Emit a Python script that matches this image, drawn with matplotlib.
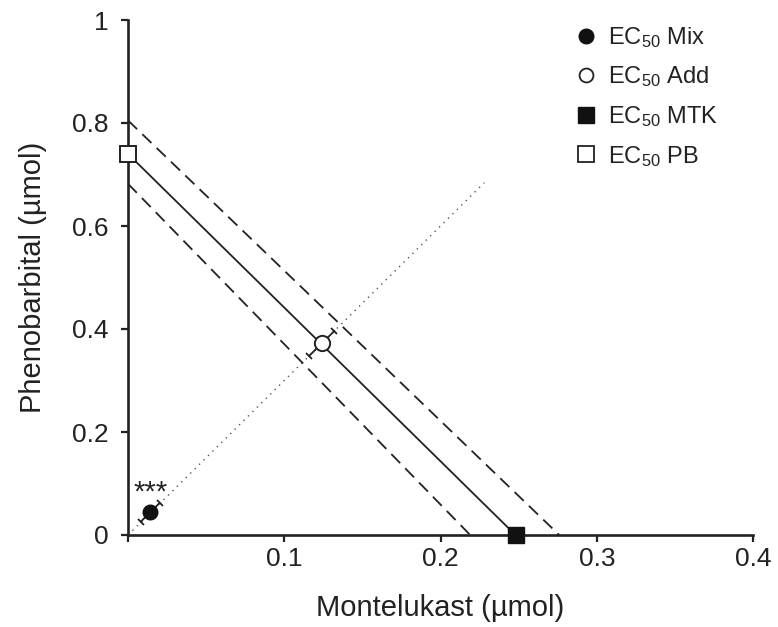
import numpy as np
import matplotlib
matplotlib.use("Agg")
import matplotlib.pyplot as plt
from matplotlib.lines import Line2D
from matplotlib.markers import MarkerStyle
from matplotlib.transforms import Affine2D

plt.rcParams['font.family'] = ['Liberation Sans', 'DejaVu Sans']
plt.rcParams['mathtext.fontset'] = 'custom'
plt.rcParams['mathtext.rm'] = 'Liberation Sans'
plt.rcParams['mathtext.default'] = 'regular'

# ---- data ----
ec50_mtk = 0.248          # Montelukast alone (x intercept)
ec50_pb = 0.740           # Phenobarbital alone (y intercept)
upper_x, upper_y = 0.276, 0.805   # upper confidence line intercepts
lower_x, lower_y = 0.219, 0.682   # lower confidence line intercepts
add_x, add_y = 0.124, 0.372       # theoretical additive EC50
add_err_x, add_err_y = 0.008, 0.024
mix_x, mix_y = 0.0142, 0.0440     # experimental mixture EC50
mix_err_x, mix_err_y = 0.006, 0.018
ray_end_x, ray_end_y = 0.228, 0.684   # fixed-ratio ray
x_ticks = [0, 0.1, 0.2, 0.3, 0.4]
x_ticklabels = ['', '0.1', '0.2', '0.3', '0.4']
y_ticks = [0, 0.2, 0.4, 0.6, 0.8, 1.0]
y_ticklabels = ['0', '0.2', '0.4', '0.6', '0.8', '1']

fig = plt.figure(figsize=(7.78, 6.27), dpi=100)
ax = fig.add_axes([128/778, 1-535/627, (753-128)/778, (535-20)/627])
ax.set_xlim(0, 0.4)
ax.set_ylim(0, 1.0)

# dotted ray
ax.plot([0, ray_end_x], [0, ray_end_y], color='#555555', lw=1.0,
        linestyle=(0, (1, 3.5)), zorder=1)
# isobole + confidence lines
ax.plot([0, ec50_mtk], [ec50_pb, 0], color='#222222', lw=1.3, zorder=2)
ax.plot([0, upper_x], [upper_y, 0], color='#222222', lw=1.3, dashes=(7, 4), zorder=2)
ax.plot([0, lower_x], [lower_y, 0], color='#222222', lw=1.3, dashes=(7, 4), zorder=2)

# error bars along the ray, with caps perpendicular in display space
fig.canvas.draw()
def diag_err(cx, cy, ex, ey):
    xs = [cx - ex, cx + ex]
    ys = [cy - ey, cy + ey]
    ax.plot(xs, ys, color='#222222', lw=1.3, zorder=3, clip_on=False)
    p0 = ax.transData.transform((xs[0], ys[0]))
    p1 = ax.transData.transform((xs[1], ys[1]))
    ang = np.degrees(np.arctan2(p1[1]-p0[1], p1[0]-p0[0]))
    ms = MarkerStyle('_', transform=Affine2D().rotate_deg(ang + 90))
    ax.plot(xs, ys, linestyle='none', marker=ms, markersize=7,
            markeredgewidth=1.3, color='#222222', zorder=3, clip_on=False)

diag_err(add_x, add_y, add_err_x, add_err_y)
diag_err(mix_x, mix_y, mix_err_x, mix_err_y)

# points
ax.plot(mix_x, mix_y, 'o', ms=10.5, mfc='#111111', mec='#111111', zorder=5)
ax.plot(add_x, add_y, 'o', ms=11, mfc='white', mec='#222222', mew=1.4, zorder=5)
ax.plot(ec50_mtk, 0, 's', ms=11.5, mfc='#111111', mec='#111111', zorder=6, clip_on=False)
ax.plot(0, ec50_pb, 's', ms=12, mfc='white', mec='#222222', mew=1.4, zorder=6, clip_on=False)

ax.text(mix_x, mix_y + 0.022, '***', ha='center', va='baseline', fontsize=21, color='#222222')

# axes styling
for s in ['top', 'right']:
    ax.spines[s].set_visible(False)
for s in ['left', 'bottom']:
    ax.spines[s].set_linewidth(1.9)
    ax.spines[s].set_color('#222222')
ax.set_xticks(x_ticks)
ax.set_xticklabels(x_ticklabels)
ax.set_yticks(y_ticks)
ax.set_yticklabels(y_ticklabels)
ax.tick_params(direction='out', length=5, width=1.6, color='#222222',
               labelsize=19, labelcolor='#222222')
ax.tick_params(axis='x', pad=4)
ax.tick_params(axis='y', pad=9)
ax.set_xlabel('Montelukast (µmol)', fontsize=21, color='#222222', labelpad=16)
ax.set_ylabel('Phenobarbital (µmol)', fontsize=21, color='#222222', labelpad=18)

handles = [
    Line2D([], [], ls='none', marker='o', ms=10.5, mfc='#111111', mec='#111111'),
    Line2D([], [], ls='none', marker='o', ms=10, mfc='white', mec='#222222', mew=1.3),
    Line2D([], [], ls='none', marker='s', ms=11, mfc='#111111', mec='#111111'),
    Line2D([], [], ls='none', marker='s', ms=11, mfc='white', mec='#222222', mew=1.3),
]
labels = ['EC$_{50}$ Mix', 'EC$_{50}$ Add', 'EC$_{50}$ MTK', 'EC$_{50}$ PB']
fig.legend(handles, labels, loc='upper left', bbox_to_anchor=(577/778, 1-25/627),
           frameon=False, fontsize=17, handlelength=0.8, handletextpad=0.5,
           labelspacing=0.62, borderpad=0, borderaxespad=0, labelcolor='#222222')

fig.savefig('out.png', dpi=100)
